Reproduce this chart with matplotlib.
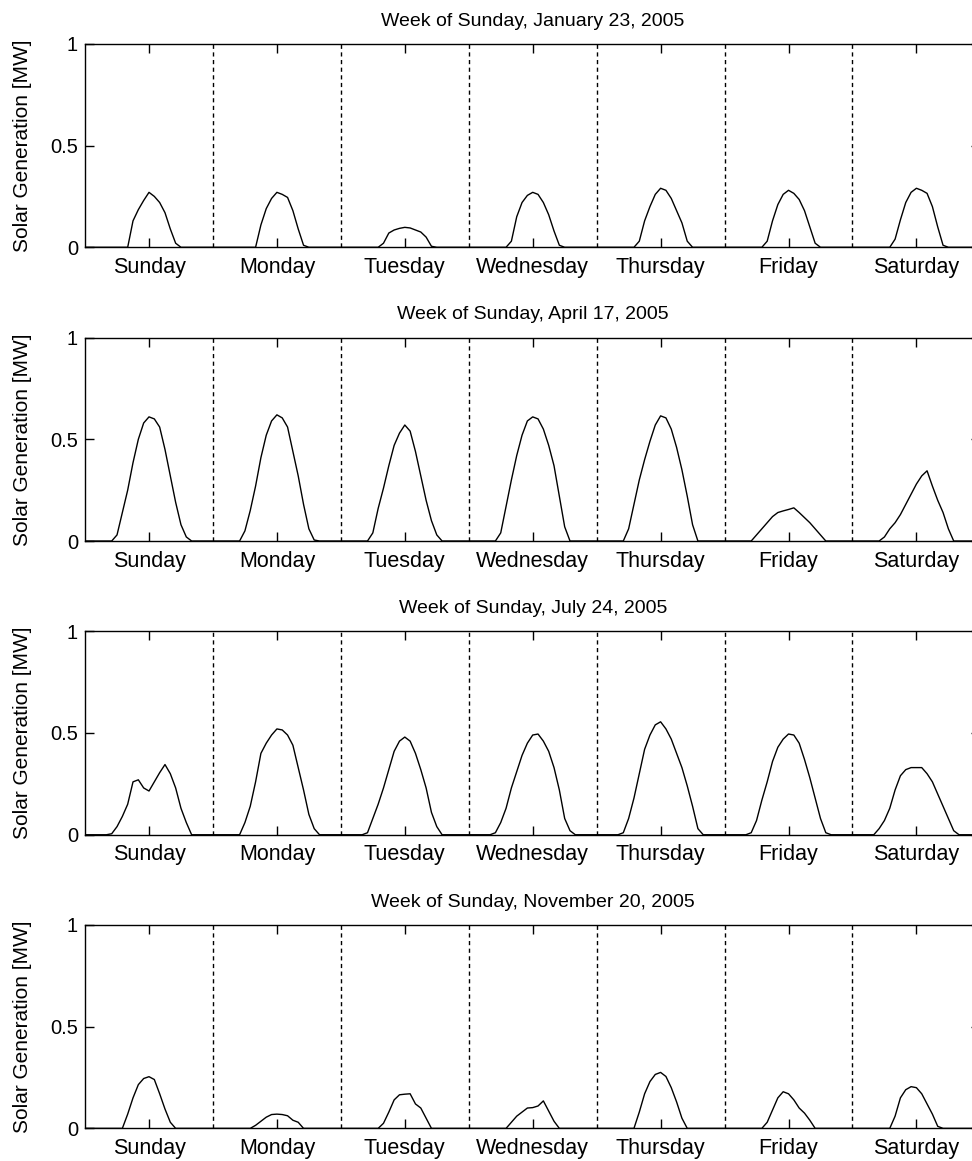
import numpy as np
import matplotlib
matplotlib.use("Agg")
import matplotlib.pyplot as plt

plt.rcParams['font.family'] = ['Liberation Sans', 'DejaVu Sans']

# data: hourly solar generation [MW], values start at the given hour of each day
day_names = ['Sunday', 'Monday', 'Tuesday', 'Wednesday', 'Thursday', 'Friday', 'Saturday']
titles = ['Week of Sunday, January 23, 2005',
          'Week of Sunday, April 17, 2005',
          'Week of Sunday, July 24, 2005',
          'Week of Sunday, November 20, 2005']

jan_start = [8, 8, 7, 7, 7, 7, 7]
jan_vals = [
    [0, 0.13, 0.185, 0.23, 0.27, 0.25, 0.22, 0.17, 0.09, 0.02, 0],
    [0, 0.11, 0.19, 0.24, 0.27, 0.26, 0.245, 0.18, 0.09, 0.01, 0],
    [0, 0.02, 0.07, 0.085, 0.093, 0.098, 0.095, 0.085, 0.075, 0.05, 0.005, 0],
    [0, 0.03, 0.15, 0.22, 0.255, 0.27, 0.26, 0.22, 0.16, 0.08, 0.01, 0],
    [0, 0.03, 0.13, 0.2, 0.26, 0.29, 0.28, 0.24, 0.18, 0.12, 0.03, 0],
    [0, 0.03, 0.13, 0.21, 0.26, 0.28, 0.265, 0.235, 0.18, 0.1, 0.02, 0],
    [0, 0.04, 0.135, 0.22, 0.27, 0.29, 0.28, 0.265, 0.2, 0.1, 0.01, 0],
]

apr_start = [5, 5, 5, 5, 5, 5, 5]
apr_vals = [
    [0, 0.03, 0.14, 0.25, 0.385, 0.5, 0.58, 0.61, 0.6, 0.56, 0.45, 0.32, 0.19, 0.08, 0.02, 0],
    [0, 0.05, 0.15, 0.27, 0.41, 0.52, 0.59, 0.62, 0.605, 0.56, 0.44, 0.32, 0.18, 0.06, 0.005, 0],
    [0, 0.04, 0.16, 0.26, 0.37, 0.47, 0.53, 0.57, 0.54, 0.44, 0.32, 0.2, 0.1, 0.03, 0],
    [0, 0.04, 0.17, 0.3, 0.42, 0.52, 0.59, 0.61, 0.6, 0.55, 0.47, 0.37, 0.22, 0.07, 0],
    [0, 0.06, 0.18, 0.3, 0.4, 0.49, 0.57, 0.615, 0.605, 0.55, 0.46, 0.35, 0.22, 0.08, 0],
    [0, 0.03, 0.06, 0.09, 0.12, 0.14, 0.148, 0.155, 0.163, 0.14, 0.115, 0.09, 0.06, 0.03, 0],
    [0, 0.02, 0.06, 0.09, 0.13, 0.18, 0.23, 0.28, 0.32, 0.345, 0.27, 0.2, 0.14, 0.06, 0],
]

jul_start = [4, 4, 4, 4, 4, 4, 4]
jul_vals = [
    [0, 0.005, 0.04, 0.09, 0.15, 0.26, 0.27, 0.23, 0.215, 0.26, 0.305, 0.345, 0.3, 0.23, 0.13, 0.06, 0],
    [0, 0, 0.06, 0.14, 0.26, 0.4, 0.45, 0.49, 0.52, 0.515, 0.49, 0.44, 0.33, 0.22, 0.1, 0.03, 0],
    [0, 0.01, 0.08, 0.15, 0.23, 0.32, 0.41, 0.46, 0.48, 0.46, 0.4, 0.32, 0.23, 0.11, 0.04, 0],
    [0, 0.01, 0.06, 0.13, 0.23, 0.31, 0.39, 0.45, 0.49, 0.495, 0.46, 0.41, 0.33, 0.22, 0.08, 0.02, 0],
    [0, 0.01, 0.08, 0.18, 0.3, 0.42, 0.49, 0.54, 0.555, 0.52, 0.47, 0.4, 0.33, 0.24, 0.14, 0.03, 0],
    [0, 0.01, 0.07, 0.17, 0.26, 0.36, 0.43, 0.47, 0.495, 0.49, 0.45, 0.37, 0.28, 0.18, 0.08, 0.01, 0],
    [0, 0.03, 0.07, 0.13, 0.22, 0.29, 0.32, 0.33, 0.33, 0.33, 0.3, 0.26, 0.2, 0.14, 0.08, 0.02, 0],
]

nov_start = [7, 7, 7, 7, 7, 7, 7]
nov_vals = [
    [0, 0.07, 0.15, 0.215, 0.245, 0.254, 0.24, 0.17, 0.095, 0.03, 0],
    [0, 0.015, 0.035, 0.055, 0.068, 0.07, 0.068, 0.062, 0.04, 0.03, 0],
    [0, 0.025, 0.08, 0.14, 0.165, 0.168, 0.17, 0.12, 0.1, 0.05, 0],
    [0, 0.03, 0.06, 0.08, 0.1, 0.102, 0.11, 0.135, 0.085, 0.035, 0],
    [0, 0.08, 0.17, 0.23, 0.265, 0.275, 0.255, 0.2, 0.13, 0.05, 0],
    [0, 0.03, 0.09, 0.15, 0.18, 0.17, 0.14, 0.1, 0.075, 0.04, 0],
    [0, 0.06, 0.15, 0.19, 0.205, 0.2, 0.17, 0.12, 0.07, 0.01, 0],
]

weeks = [(jan_start, jan_vals), (apr_start, apr_vals),
         (jul_start, jul_vals), (nov_start, nov_vals)]


def week_series(starts, vals):
    gen = np.zeros(7 * 24 + 1)
    for d in range(7):
        i0 = d * 24 + starts[d]
        gen[i0:i0 + len(vals[d])] = vals[d]
    return np.arange(len(gen)) / 24.0, gen


def main():
    fig = plt.figure(figsize=(9.72, 11.61), dpi=100)
    bottoms = [0.7870, 0.5340, 0.2810, 0.0281]
    for k, (starts, vals) in enumerate(weeks):
        ax = fig.add_axes([0.0875, bottoms[k], 0.9211, 0.1753])
        x, y = week_series(starts, vals)
        ax.plot(x, y, color='black', lw=1)
        for d in range(1, 7):
            ax.axvline(d, color='black', lw=1, ls=(0, (3, 2.5)))
        ax.set_xlim(0, 7)
        ax.set_ylim(0, 1)
        ax.set_xticks(np.arange(7) + 0.5)
        ax.set_xticklabels(day_names)
        ax.set_yticks([0, 0.5, 1])
        ax.set_yticklabels(['0', '0.5', '1'])
        ax.tick_params(direction='in', top=True, right=True, length=6.5, width=1)
        ax.tick_params(axis='x', pad=7, labelsize=15.5)
        ax.tick_params(axis='y', pad=5, labelsize=14.5)
        for sp in ax.spines.values():
            sp.set_linewidth(1)
        ax.set_title(titles[k], fontsize=14, pad=13)
        ax.set_ylabel('Solar Generation [MW]', fontsize=15)
        ax.yaxis.set_label_coords(-0.059, 0.5)
    fig.savefig('out.png', dpi=100)


if __name__ == "__main__":
    main()
